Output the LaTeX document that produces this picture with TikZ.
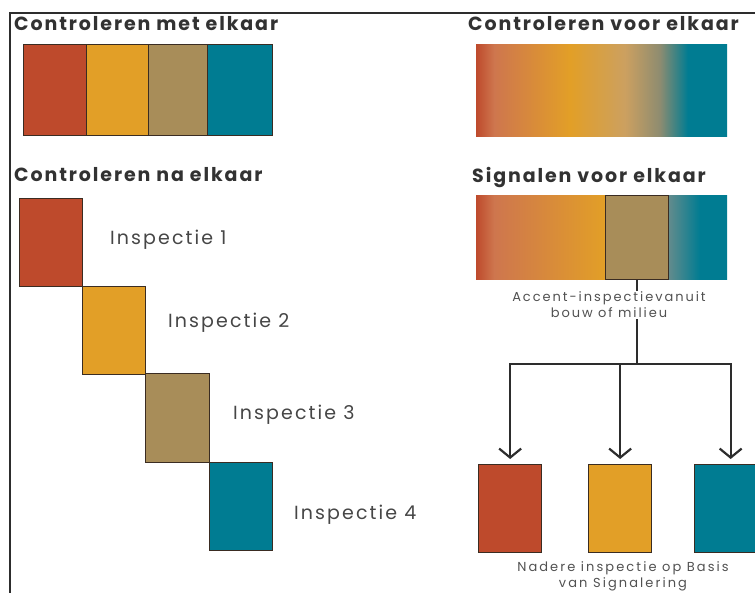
\documentclass[tikz,border=0pt]{standalone}
\usepackage{fontspec}
\setmainfont{Poppins}
\usetikzlibrary{arrows.meta,positioning}

\definecolor{rood}{RGB}{190,74,44}
\definecolor{oranje}{RGB}{226,159,39}
\definecolor{taupe}{RGB}{168,141,89}
\definecolor{petrol}{RGB}{0,124,146}
\definecolor{zalm}{RGB}{206,118,78}
\definecolor{lichttan}{RGB}{204,160,96}
\definecolor{grijsgroen}{RGB}{142,140,112}
\definecolor{blauwgrijs}{RGB}{104,140,140}
\definecolor{vakrand}{RGB}{58,44,34}
\definecolor{lijn}{RGB}{45,45,45}
\definecolor{tekst}{RGB}{50,50,50}

% verlopen: balk loopt van 25bp tot 75bp
\pgfdeclarehorizontalshading{voorverloop}{100bp}{color(0bp)=(rood); color(25bp)=(rood);
  color(28.6bp)=(zalm); color(43.7bp)=(oranje); color(54.7bp)=(lichttan);
  color(61.6bp)=(grijsgroen); color(67.2bp)=(petrol); color(100bp)=(petrol)}
\pgfdeclarehorizontalshading{signaalverloop}{100bp}{color(0bp)=(rood); color(25bp)=(rood);
  color(28.6bp)=(zalm); color(50.7bp)=(oranje); color(63bp)=(blauwgrijs);
  color(69.6bp)=(petrol); color(100bp)=(petrol)}

\tikzset{
  kop/.style={anchor=west, inner sep=0pt, text=tekst, font=\fontsize{19}{22}\selectfont\bfseries\addfontfeature{LetterSpace=10}},
  label/.style={anchor=west, inner sep=0pt, text=tekst!90, font=\fontsize{19}{22}\selectfont\addfontfeature{LetterSpace=11}},
  klein/.style={inner sep=1pt, text=tekst!85, align=center, font=\fontsize{13}{16}\selectfont\addfontfeature{LetterSpace=15}},
  vak/.style={draw=vakrand, line width=1.3pt, inner sep=0pt, anchor=north west, minimum width=63pt, minimum height=88pt},
  pijl/.style={draw=lijn, line width=1.8pt, -{Straight Barb[length=9pt,width=22pt,line width=2.2pt]}, shorten >=5pt},
}

\begin{document}
\begin{tikzpicture}[x=1pt,y=-1pt,>=latex,line join=miter]
\useasboundingbox (0,0) rectangle (755,592);
%%
% Frame
\draw[lijn, line width=1.8pt] (10,600) -- (10,13) -- (760,13);
%
% Node: titles
\node[kop] (met)  at (14,24)  {Controleren met elkaar};
\node[kop] (voor) at (468,24) {Controleren voor elkaar};
\node[kop] (na)   at (14,175) {Controleren na elkaar};
\node[kop] (sig)  at (472,177) {Signalen voor elkaar};
%
% Node: met elkaar
\node[vak, fill=rood,   minimum width=63pt, minimum height=91pt] (met1) at (23,44)  {};
\node[vak, fill=oranje, minimum width=62pt, minimum height=91pt] (met2) at (86,44)  {};
\node[vak, fill=taupe,  minimum width=59pt, minimum height=91pt] (met3) at (148,44) {};
\node[vak, fill=petrol, minimum width=65pt, minimum height=91pt] (met4) at (207,44) {};
%
% Node: voor elkaar (verloop)
\shade[shading=voorverloop] (476,44) rectangle (727,136);
%
% Node: na elkaar
\node[vak, fill=rood]   (insp1) at (19,198)  {};
\node[vak, fill=oranje] (insp2) at (82,286)  {};
\node[vak, fill=taupe, minimum width=64pt, minimum height=89pt] (insp3) at (145,373) {};
\node[vak, fill=petrol] (insp4) at (209,462) {};
\node[label] at (110,240) {Inspectie 1};
\node[label] at (168,323) {Inspectie 2};
\node[label] at (233,415) {Inspectie 3};
\node[label] at (294,515) {Inspectie 4};
%
% Node: signalen (verloop)
\shade[shading=signaalverloop] (476,195) rectangle (727,279);
\node[vak, fill=taupe, minimum height=84pt] (accentvak) at (605,195) {};
\node[klein] (accent) at (609,305) {Accent-inspectievanuit\\bouw of milieu};
%
% Node: nadere inspectie
\node[vak, fill=rood]   (nadera) at (478,464) {};
\node[vak, fill=oranje] (naderb) at (588,464) {};
\node[vak, fill=petrol] (naderc) at (694,464) {};
\node[klein, anchor=south, font=\fontsize{13}{16}\selectfont\addfontfeature{LetterSpace=16}] (nadere) at (623,592) {Nadere inspectie op Basis\\van Signalering};
%
% Edge: accent -> nadere
\coordinate (splits) at (accentvak.south |- 0,364);
\draw[lijn, line width=1.8pt] (accentvak.south) -- (accentvak.south |- accent.north);
\draw[lijn, line width=1.8pt] (accentvak.south |- accent.south) -- (splits);
\draw[pijl] (splits) -| (nadera.north);
\draw[pijl] (splits -| naderb.north) -- (naderb.north);
\draw[pijl] (splits) -| ([xshift=4.5pt]naderc.north);
%
\end{tikzpicture}
\end{document}
